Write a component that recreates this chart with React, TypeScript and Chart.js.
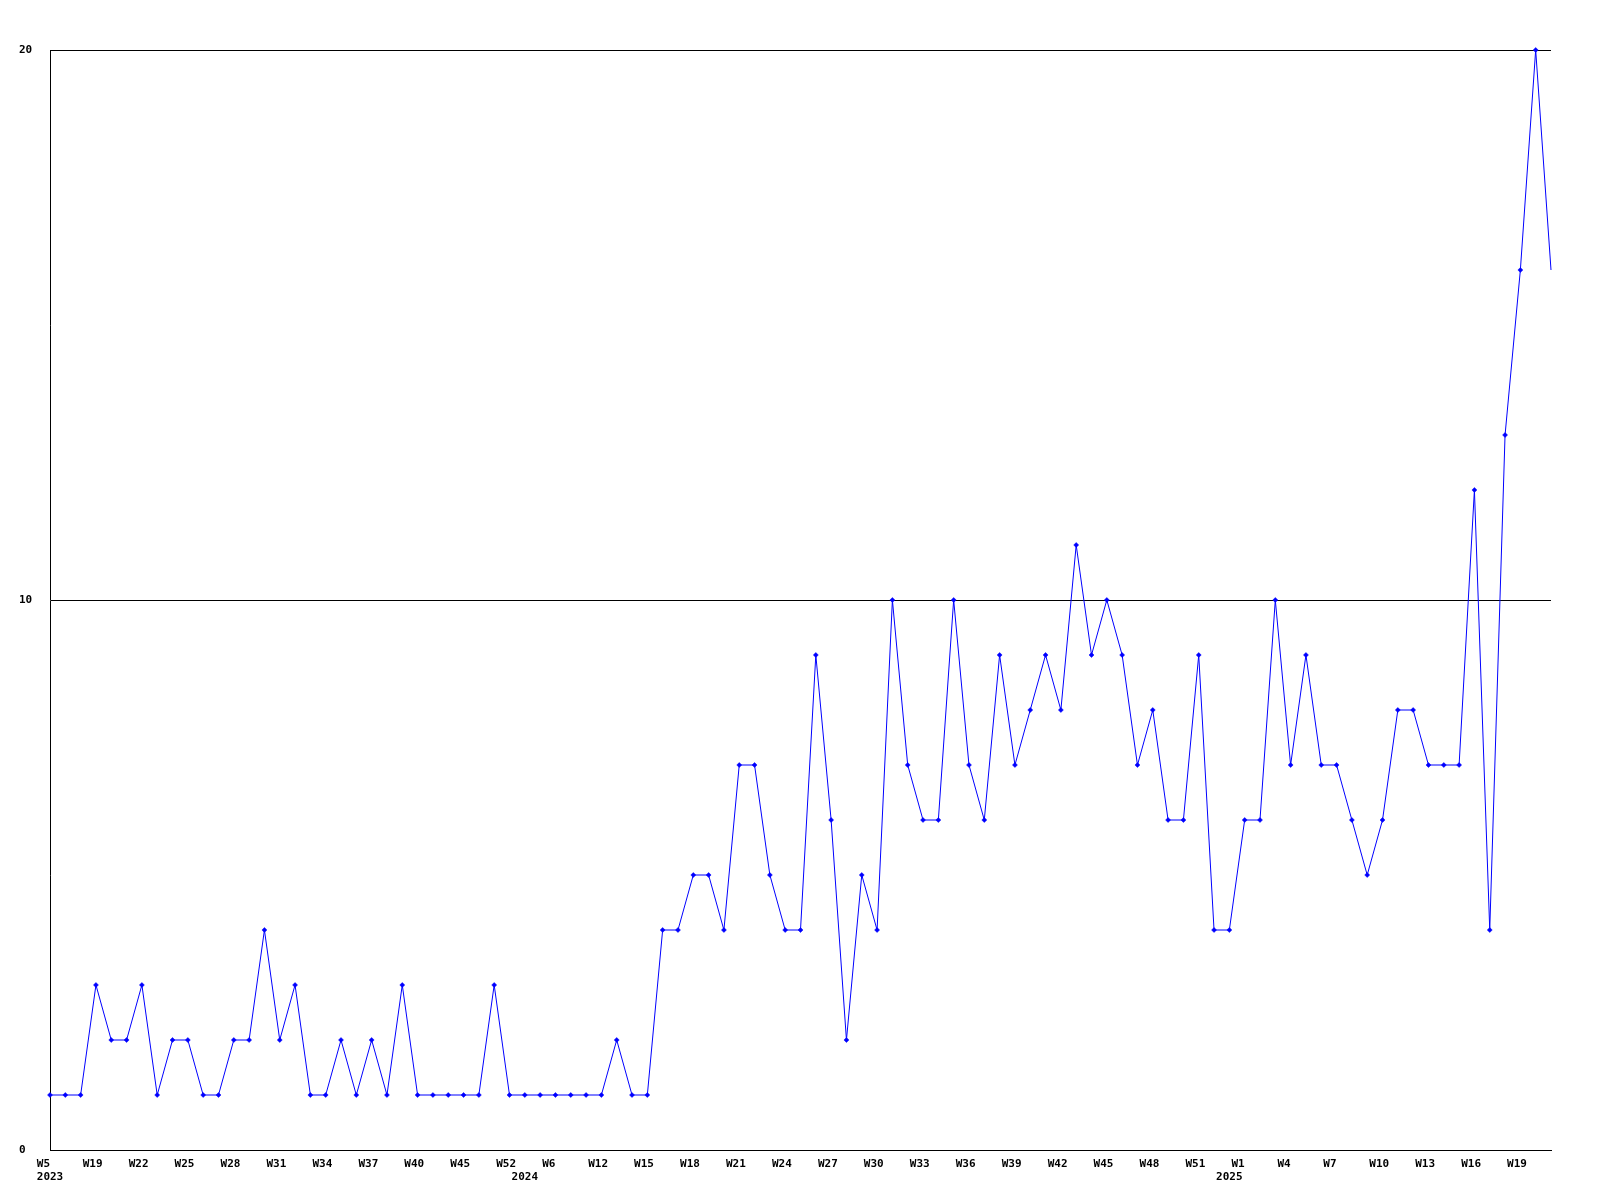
import React, { useEffect, useRef } from "react";
import { Chart, registerables } from "chart.js";

Chart.register(...registerables);

// Weekly counts, one per category (W5 2023 .. W21 2025)
const values: number[] = [
  1, 1, 1, 3, 2, 2, 3, 1, 2, 2,
  1, 1, 2, 2, 4, 2, 3, 1, 1, 2,
  1, 2, 1, 3, 1, 1, 1, 1, 1, 3,
  1, 1, 1, 1, 1, 1, 1, 2, 1, 1,
  4, 4, 5, 5, 4, 7, 7, 5, 4, 4,
  9, 6, 2, 5, 4, 10, 7, 6, 6, 10,
  7, 6, 9, 7, 8, 9, 8, 11, 9, 10,
  9, 7, 8, 6, 6, 9, 4, 4, 6, 6,
  10, 7, 9, 7, 7, 6, 5, 6, 8, 8,
  7, 7, 7, 12, 4, 13, 16, 20, 16,
];

// Week tick labels (only every third category carries a label)
const weekLabels: string[] = [
  "W5", "", "", "W19", "", "", "W22", "", "", "W25",
  "", "", "W28", "", "", "W31", "", "", "W34", "",
  "", "W37", "", "", "W40", "", "", "W45", "", "",
  "W52", "", "", "W6", "", "", "W12", "", "", "W15",
  "", "", "W18", "", "", "W21", "", "", "W24", "",
  "", "W27", "", "", "W30", "", "", "W33", "", "",
  "W36", "", "", "W39", "", "", "W42", "", "", "W45",
  "", "", "W48", "", "", "W51", "", "", "W1", "",
  "", "W4", "", "", "W7", "", "", "W10", "", "",
  "W13", "", "", "W16", "", "", "W19", "", "",
];

// Year labels: [category index, year]
const yearTicks: [number, string][] = [
  [0, "2023"],
  [31, "2024"],
  [77, "2025"],
];

const yTickValues: number[] = [0, 10, 20];

const FONT = { family: "'DejaVu Sans Mono', 'Liberation Mono', monospace", size: 11, weight: "bold" as const, lineHeight: 1.14 };

export default function App() {
  const canvasRef = useRef<HTMLCanvasElement | null>(null);

  useEffect(() => {
    const canvas = canvasRef.current;
    if (!canvas) return;
    const yearMap = new Map<number, string>(yearTicks);
    const categories = values.map((_, i) => String(i));

    const chart = new Chart(canvas, {
      type: "line",
      data: {
        labels: categories,
        datasets: [
          {
            data: values,
            borderColor: "#0000ff",
            backgroundColor: "#0000ff",
            borderWidth: 1,
            tension: 0,
            fill: false,
            pointStyle: "rectRot",
            pointRadius: (ctx: any) => (ctx.dataIndex === values.length - 1 ? 0 : 2.5),
            pointBorderWidth: 0.5,
            pointBorderColor: "#0000ff",
            pointBackgroundColor: "#0000ff",
            clip: false as any,
          },
        ],
      },
      options: {
        responsive: false,
        animation: false,
        layout: { padding: { left: 19, right: 49, top: 50, bottom: 0 } },
        plugins: {
          legend: { display: false },
          tooltip: { enabled: false },
          title: { display: false },
        },
        scales: {
          x: {
            type: "category",
            offset: false,
            grid: { display: false, drawTicks: false },
            border: { display: true, color: "#000000", width: 1 },
            ticks: {
              autoSkip: false,
              maxRotation: 0,
              minRotation: 0,
              padding: 8,
              color: "#000000",
              font: FONT,
              callback: (_v: any, i: number) => {
                const w = weekLabels[i] || "";
                const y = yearMap.get(i) || "";
                if (!w && !y) return "";
                if (!y) return w.padEnd(4, " ");
                return [w.padEnd(4, " "), y.padEnd(4, " ")];
              },
            },
            afterFit: (scale: any) => {
              scale.height = 50;
            },
          },
          y: {
            min: 0,
            max: 20,
            afterBuildTicks: (scale: any) => {
              scale.ticks = yTickValues.map((v) => ({ value: v }));
            },
            grid: { display: true, color: "#000000", lineWidth: 1, drawTicks: false },
            border: { display: true, color: "#000000", width: 1 },
            ticks: {
              color: "#000000",
              font: FONT,
              crossAlign: "far",
              padding: 0,
            },
            afterFit: (scale: any) => {
              scale.width = 31;
            },
          },
        },
      },
    });

    return () => {
      chart.destroy();
    };
  }, []);

  return (
    <div style={{ position: "absolute", left: 0, top: 0, width: 1600, height: 1200, background: "#ffffff" }}>
      <canvas ref={canvasRef} width={1600} height={1200} style={{ display: "block", width: 1600, height: 1200 }} />
    </div>
  );
}
